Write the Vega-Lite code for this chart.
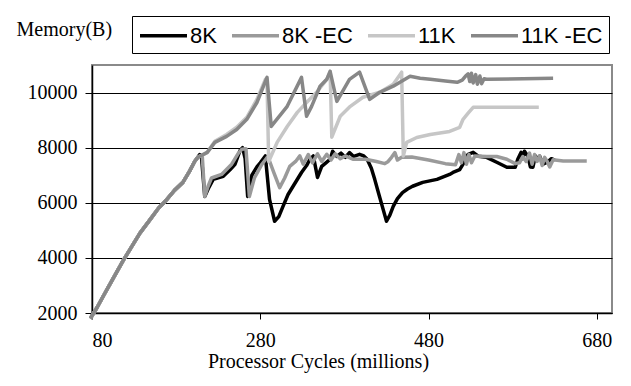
{
  "$schema": "https://vega.github.io/schema/vega-lite/v6.json",
  "width": 520,
  "height": 248,
  "autosize": {"type": "none"},
  "padding": {"left": 92, "top": 65, "right": 19, "bottom": 73},
  "background": "white",
  "config": {"view": {"stroke": "#8a8a8a", "strokeWidth": 2}, "font": "Liberation Serif"},
  "datasets": {
    "pts": [
      {"s":"8K","x":78,"y":1800},{"s":"8K","x":86,"y":2200},{"s":"8K","x":93,"y":2590},{"s":"8K","x":105,"y":3250},{"s":"8K","x":117,"y":3900},{"s":"8K","x":125,"y":4300},{"s":"8K","x":137,"y":4900},{"s":"8K","x":149,"y":5390},{"s":"8K","x":159,"y":5800},{"s":"8K","x":169,"y":6120},{"s":"8K","x":178,"y":6450},{"s":"8K","x":188,"y":6740},{"s":"8K","x":196,"y":7150},{"s":"8K","x":202,"y":7500},
      {"s":"8K","x":208,"y":7750},{"s":"8K","x":210,"y":7700},{"s":"8K","x":214,"y":6230},{"s":"8K","x":218,"y":6500},{"s":"8K","x":224,"y":6850},{"s":"8K","x":236,"y":6960},{"s":"8K","x":244,"y":7200},{"s":"8K","x":250,"y":7400},{"s":"8K","x":256,"y":7900},{"s":"8K","x":259,"y":8000},{"s":"8K","x":262,"y":7600},{"s":"8K","x":265,"y":6230},{"s":"8K","x":270,"y":7000},{"s":"8K","x":276,"y":7300},{"s":"8K","x":280,"y":7450},{"s":"8K","x":286,"y":7700},{"s":"8K","x":291,"y":6120},{"s":"8K","x":297,"y":5330},{"s":"8K","x":302,"y":5500},{"s":"8K","x":307,"y":5870},{"s":"8K","x":313,"y":6300},{"s":"8K","x":319,"y":6600},{"s":"8K","x":329,"y":7100},{"s":"8K","x":335,"y":7350},{"s":"8K","x":339,"y":7580},{"s":"8K","x":343,"y":7700},{"s":"8K","x":348,"y":6920},{"s":"8K","x":353,"y":7320},{"s":"8K","x":358,"y":7450},{"s":"8K","x":363,"y":7580},{"s":"8K","x":366,"y":7870},{"s":"8K","x":371,"y":7680},{"s":"8K","x":376,"y":7800},{"s":"8K","x":381,"y":7650},{"s":"8K","x":386,"y":7820},{"s":"8K","x":391,"y":7680},{"s":"8K","x":398,"y":7760},{"s":"8K","x":403,"y":7700},{"s":"8K","x":407,"y":7580},{"s":"8K","x":412,"y":7250},{"s":"8K","x":416,"y":6850},{"s":"8K","x":421,"y":6300},{"s":"8K","x":425,"y":5870},{"s":"8K","x":430,"y":5330},{"s":"8K","x":434,"y":5550},{"s":"8K","x":438,"y":5870},{"s":"8K","x":443,"y":6150},{"s":"8K","x":449,"y":6370},{"s":"8K","x":455,"y":6500},{"s":"8K","x":461,"y":6600},{"s":"8K","x":473,"y":6740},{"s":"8K","x":490,"y":6850},{"s":"8K","x":505,"y":7030},{"s":"8K","x":509,"y":7100},{"s":"8K","x":517,"y":7200},{"s":"8K","x":521,"y":7400},{"s":"8K","x":524,"y":7650},{"s":"8K","x":527,"y":7760},{"s":"8K","x":533,"y":7830},{"s":"8K","x":539,"y":7690},{"s":"8K","x":549,"y":7650},{"s":"8K","x":561,"y":7470},{"s":"8K","x":573,"y":7290},{"s":"8K","x":583,"y":7290},{"s":"8K","x":586,"y":7580},{"s":"8K","x":590,"y":7830},{"s":"8K","x":592,"y":7600},{"s":"8K","x":594,"y":7870},{"s":"8K","x":598,"y":7690},{"s":"8K","x":601,"y":7300},{"s":"8K","x":604,"y":7290},{"s":"8K","x":607,"y":7700},{"s":"8K","x":609,"y":7580},{"s":"8K","x":612,"y":7690},{"s":"8K","x":616,"y":7400},{"s":"8K","x":621,"y":7470},{"s":"8K","x":626,"y":7600},{"s":"8K","x":630,"y":7550},

      {"s":"8K -EC","x":78,"y":1800},{"s":"8K -EC","x":86,"y":2200},{"s":"8K -EC","x":93,"y":2590},{"s":"8K -EC","x":105,"y":3250},{"s":"8K -EC","x":117,"y":3900},{"s":"8K -EC","x":125,"y":4300},{"s":"8K -EC","x":137,"y":4900},{"s":"8K -EC","x":149,"y":5390},{"s":"8K -EC","x":159,"y":5800},{"s":"8K -EC","x":169,"y":6120},{"s":"8K -EC","x":178,"y":6450},{"s":"8K -EC","x":188,"y":6740},{"s":"8K -EC","x":196,"y":7150},{"s":"8K -EC","x":202,"y":7500},
      {"s":"8K -EC","x":207,"y":7680},{"s":"8K -EC","x":211,"y":7720},{"s":"8K -EC","x":214,"y":6230},{"s":"8K -EC","x":218,"y":6600},{"s":"8K -EC","x":222,"y":6900},{"s":"8K -EC","x":234,"y":7030},{"s":"8K -EC","x":246,"y":7400},{"s":"8K -EC","x":254,"y":7800},{"s":"8K -EC","x":258,"y":7940},{"s":"8K -EC","x":263,"y":7960},{"s":"8K -EC","x":267,"y":6230},{"s":"8K -EC","x":273,"y":6900},{"s":"8K -EC","x":282,"y":7400},{"s":"8K -EC","x":289,"y":7680},{"s":"8K -EC","x":296,"y":7100},{"s":"8K -EC","x":303,"y":6550},{"s":"8K -EC","x":309,"y":6900},{"s":"8K -EC","x":315,"y":7320},{"s":"8K -EC","x":322,"y":7500},{"s":"8K -EC","x":327,"y":7700},{"s":"8K -EC","x":331,"y":7400},{"s":"8K -EC","x":337,"y":7750},{"s":"8K -EC","x":342,"y":7450},{"s":"8K -EC","x":348,"y":7780},{"s":"8K -EC","x":353,"y":7500},{"s":"8K -EC","x":359,"y":7760},{"s":"8K -EC","x":364,"y":7550},{"s":"8K -EC","x":369,"y":7780},{"s":"8K -EC","x":375,"y":7600},{"s":"8K -EC","x":381,"y":7700},{"s":"8K -EC","x":390,"y":7580},{"s":"8K -EC","x":405,"y":7580},{"s":"8K -EC","x":418,"y":7500},{"s":"8K -EC","x":428,"y":7420},{"s":"8K -EC","x":432,"y":7500},{"s":"8K -EC","x":436,"y":7650},{"s":"8K -EC","x":440,"y":7820},{"s":"8K -EC","x":443,"y":7550},{"s":"8K -EC","x":448,"y":7650},{"s":"8K -EC","x":460,"y":7660},{"s":"8K -EC","x":480,"y":7550},{"s":"8K -EC","x":500,"y":7420},{"s":"8K -EC","x":512,"y":7380},{"s":"8K -EC","x":516,"y":7750},{"s":"8K -EC","x":519,"y":7450},{"s":"8K -EC","x":522,"y":7820},{"s":"8K -EC","x":525,"y":7400},{"s":"8K -EC","x":528,"y":7750},{"s":"8K -EC","x":531,"y":7450},{"s":"8K -EC","x":535,"y":7700},{"s":"8K -EC","x":549,"y":7680},{"s":"8K -EC","x":561,"y":7680},{"s":"8K -EC","x":573,"y":7580},{"s":"8K -EC","x":583,"y":7420},{"s":"8K -EC","x":588,"y":7450},{"s":"8K -EC","x":592,"y":7680},{"s":"8K -EC","x":596,"y":7500},{"s":"8K -EC","x":600,"y":7800},{"s":"8K -EC","x":603,"y":7400},{"s":"8K -EC","x":606,"y":7750},{"s":"8K -EC","x":609,"y":7500},{"s":"8K -EC","x":612,"y":7700},{"s":"8K -EC","x":615,"y":7350},{"s":"8K -EC","x":618,"y":7650},{"s":"8K -EC","x":621,"y":7500},{"s":"8K -EC","x":624,"y":7300},{"s":"8K -EC","x":628,"y":7560},{"s":"8K -EC","x":640,"y":7520},{"s":"8K -EC","x":668,"y":7520},

      {"s":"11K","x":78,"y":1800},{"s":"11K","x":86,"y":2200},{"s":"11K","x":93,"y":2590},{"s":"11K","x":105,"y":3250},{"s":"11K","x":117,"y":3900},{"s":"11K","x":125,"y":4300},{"s":"11K","x":137,"y":4900},{"s":"11K","x":149,"y":5390},{"s":"11K","x":159,"y":5800},{"s":"11K","x":169,"y":6120},{"s":"11K","x":178,"y":6450},{"s":"11K","x":188,"y":6740},{"s":"11K","x":196,"y":7150},{"s":"11K","x":202,"y":7500},
      {"s":"11K","x":206,"y":7650},{"s":"11K","x":217,"y":7830},{"s":"11K","x":226,"y":8230},{"s":"11K","x":240,"y":8480},{"s":"11K","x":252,"y":8740},{"s":"11K","x":264,"y":9100},{"s":"11K","x":276,"y":9750},{"s":"11K","x":286,"y":10480},{"s":"11K","x":288,"y":10400},{"s":"11K","x":290,"y":7500},{"s":"11K","x":300,"y":8190},{"s":"11K","x":312,"y":8770},{"s":"11K","x":324,"y":9280},{"s":"11K","x":335,"y":9640},{"s":"11K","x":347,"y":10010},{"s":"11K","x":359,"y":10480},{"s":"11K","x":363,"y":10770},{"s":"11K","x":365,"y":8380},{"s":"11K","x":375,"y":9140},{"s":"11K","x":387,"y":9500},{"s":"11K","x":402,"y":9830},{"s":"11K","x":422,"y":10010},{"s":"11K","x":438,"y":10300},{"s":"11K","x":446,"y":10650},{"s":"11K","x":448,"y":10740},{"s":"11K","x":450,"y":7700},{"s":"11K","x":454,"y":8190},{"s":"11K","x":466,"y":8370},{"s":"11K","x":482,"y":8480},{"s":"11K","x":505,"y":8590},{"s":"11K","x":517,"y":8740},{"s":"11K","x":521,"y":9030},{"s":"11K","x":527,"y":9250},{"s":"11K","x":533,"y":9465},{"s":"11K","x":611,"y":9465},

      {"s":"11K -EC","x":78,"y":1800},{"s":"11K -EC","x":86,"y":2200},{"s":"11K -EC","x":93,"y":2590},{"s":"11K -EC","x":105,"y":3250},{"s":"11K -EC","x":117,"y":3900},{"s":"11K -EC","x":125,"y":4300},{"s":"11K -EC","x":137,"y":4900},{"s":"11K -EC","x":149,"y":5390},{"s":"11K -EC","x":159,"y":5800},{"s":"11K -EC","x":169,"y":6120},{"s":"11K -EC","x":178,"y":6450},{"s":"11K -EC","x":188,"y":6740},{"s":"11K -EC","x":196,"y":7150},{"s":"11K -EC","x":202,"y":7500},
      {"s":"11K -EC","x":206,"y":7650},{"s":"11K -EC","x":217,"y":7830},{"s":"11K -EC","x":226,"y":8190},{"s":"11K -EC","x":240,"y":8410},{"s":"11K -EC","x":252,"y":8660},{"s":"11K -EC","x":264,"y":9030},{"s":"11K -EC","x":276,"y":9640},{"s":"11K -EC","x":288,"y":10550},{"s":"11K -EC","x":293,"y":8770},{"s":"11K -EC","x":312,"y":9500},{"s":"11K -EC","x":329,"y":10550},{"s":"11K -EC","x":335,"y":9140},{"s":"11K -EC","x":341,"y":9500},{"s":"11K -EC","x":351,"y":10230},{"s":"11K -EC","x":359,"y":10480},{"s":"11K -EC","x":363,"y":10770},{"s":"11K -EC","x":371,"y":9680},{"s":"11K -EC","x":386,"y":10480},{"s":"11K -EC","x":398,"y":10740},{"s":"11K -EC","x":410,"y":9750},{"s":"11K -EC","x":422,"y":10010},{"s":"11K -EC","x":438,"y":10230},{"s":"11K -EC","x":448,"y":10410},{"s":"11K -EC","x":458,"y":10590},{"s":"11K -EC","x":470,"y":10520},{"s":"11K -EC","x":482,"y":10480},{"s":"11K -EC","x":500,"y":10420},{"s":"11K -EC","x":514,"y":10370},{"s":"11K -EC","x":520,"y":10450},{"s":"11K -EC","x":524,"y":10600},{"s":"11K -EC","x":527,"y":10680},{"s":"11K -EC","x":529,"y":10400},{"s":"11K -EC","x":531,"y":10700},{"s":"11K -EC","x":533,"y":10350},{"s":"11K -EC","x":536,"y":10650},{"s":"11K -EC","x":538,"y":10300},{"s":"11K -EC","x":541,"y":10600},{"s":"11K -EC","x":543,"y":10320},{"s":"11K -EC","x":546,"y":10500},{"s":"11K -EC","x":549,"y":10480},{"s":"11K -EC","x":628,"y":10520}
    ]
  },
  "data": {"name": "pts"},
  "mark": {"type": "line", "strokeWidth": 3.5, "strokeJoin": "round", "strokeCap": "butt"},
  "encoding": {
    "x": {
      "field": "x", "type": "quantitative",
      "scale": {"domain": [80, 698], "nice": false, "zero": false},
      "axis": {
        "values": [80, 280, 480, 680], "grid": false, "title": "Processor Cycles (millions)",
        "domainColor": "black", "domainWidth": 1.5, "tickColor": "black", "tickSize": 6, "tickWidth": 1,
        "labelFont": "Liberation Serif", "labelFontSize": 20, "labelColor": "black", "labelPadding": 11,
        "titleFont": "Liberation Serif", "titleFontSize": 20, "titleFontWeight": "normal", "titleColor": "black",
        "titleX": 226, "titleY": 54, "titleBaseline": "alphabetic", "titleAlign": "center"
      }
    },
    "y": {
      "field": "y", "type": "quantitative",
      "scale": {"domain": [2000, 11000], "nice": false, "zero": false},
      "axis": {
        "values": [2000, 4000, 6000, 8000, 10000], "format": "d", "grid": true,
        "gridColor": "black", "gridWidth": 1, "gridOpacity": 1,
        "domainColor": "black", "domainWidth": 1.5, "tickColor": "black", "tickSize": 7, "tickWidth": 1,
        "labelFont": "Liberation Serif", "labelFontSize": 20, "labelColor": "black", "labelPadding": 8,
        "title": "Memory(B)", "titleAngle": 0, "titleX": -76, "titleY": -36, "titleAlign": "left", "titleBaseline": "middle",
        "titleFont": "Liberation Serif", "titleFontSize": 20, "titleFontWeight": "normal", "titleColor": "black"
      }
    },
    "color": {
      "field": "s", "type": "nominal",
      "scale": {"domain": ["8K", "8K -EC", "11K", "11K -EC"], "range": ["#000000", "#9a9a9a", "#c6c6c6", "#878787"]},
      "legend": {
        "title": null, "orient": "none", "legendX": 40, "legendY": -49, "direction": "horizontal",
        "symbolType": "M-2,0H2", "symbolSize": 552, "symbolStrokeWidth": 3.5, "symbolOffset": 12,
        "labelFont": "Liberation Sans", "labelFontSize": 22, "labelColor": "black", "labelOffset": 13,
        "columnPadding": 8, "padding": 6, "strokeColor": "black", "fillColor": "white"
      }
    }
  }
}
